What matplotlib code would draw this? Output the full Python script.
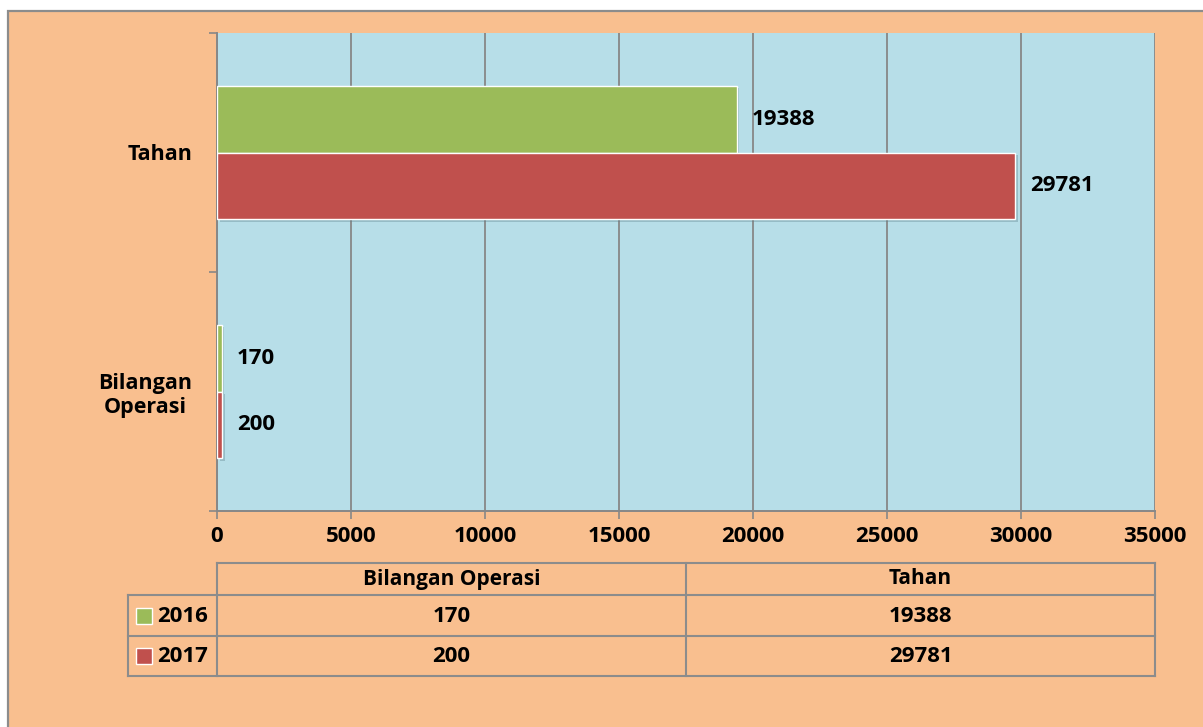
import matplotlib
matplotlib.use("Agg")
import matplotlib.pyplot as plt
from matplotlib.patches import Rectangle
from matplotlib.lines import Line2D
import matplotlib.patheffects as pe
import numpy as np

categories = ["Bilangan\nOperasi", "Tahan"]
table_headers = ["Bilangan Operasi", "Tahan"]
series_names = ["2016", "2017"]
values_2016 = [170, 19388]
values_2017 = [200, 29781]
x_ticks = [0, 5000, 10000, 15000, 20000, 25000, 30000, 35000]

W, H = 1203, 727
PEACH = "#F9BF8F"
BLUE = "#B7DEE8"
GREEN = "#9BBB59"
RED = "#C0504D"
GRAY = "#878787"
FONT = "Open Sans"
FS = 15.5      # words
FN = 16        # numbers

plt.rcParams['font.family'] = [FONT, 'DejaVu Sans']
plt.rcParams['font.weight'] = 'bold'

fig = plt.figure(figsize=(W / 100, H / 100), dpi=100, facecolor="white")

def fx(x):
    return x / W

def fy(y):
    return 1 - y / H

# chart area background with border
fig.patches.append(Rectangle((fx(8), -0.2), 1.2, fy(11) + 0.2, transform=fig.transFigure,
                             facecolor=PEACH, edgecolor="#8C8C8C", linewidth=1.6, zorder=-5))

ax = fig.add_axes([fx(217), fy(511), fx(1155) - fx(217), fy(33) - fy(511)])
ax.set_facecolor(BLUE)

shadow = [pe.SimplePatchShadow(offset=(2, -2), shadow_rgbFace="#5a7d88", alpha=0.35), pe.Normal()]
y = np.arange(len(categories))
bh = 0.28
b1 = ax.barh(y + bh / 2, values_2016, height=bh, color=GREEN, edgecolor="white", linewidth=1.0, zorder=3)
b2 = ax.barh(y - bh / 2, values_2017, height=bh, color=RED, edgecolor="white", linewidth=1.0, zorder=3)
for rect in list(b1) + list(b2):
    rect.set_path_effects(shadow)

for bars, vals in ((b1, values_2016), (b2, values_2017)):
    for rect, v in zip(bars, vals):
        ax.annotate(str(v), (rect.get_width(), rect.get_y() + rect.get_height() / 2),
                    xytext=(11, 0), textcoords="offset points", va="center", ha="left",
                    fontsize=FN, fontweight="bold", color="black", zorder=4)

ax.set_xlim(0, 35000)
ax.set_ylim(-0.5, 1.5)
ax.set_xticks(x_ticks)
ax.set_xticklabels([str(t) for t in x_ticks], fontsize=FN, fontweight="bold")
ax.tick_params(axis="x", length=6, width=1.2, color=GRAY, pad=5)

ax.set_yticks(y)
ax.set_yticklabels(categories, fontsize=FS, fontweight="bold", multialignment="center")
ax.tick_params(axis="y", which="major", length=0, pad=18)
ax.set_yticks([-0.5, 0.5, 1.5], minor=True)
ax.tick_params(axis="y", which="minor", length=6, width=1.2, color=GRAY)

ax.grid(axis="x", color=GRAY, linewidth=1.3, zorder=1)
ax.set_axisbelow(True)
for s in ("top", "right"):
    ax.spines[s].set_visible(False)
for s in ("left", "bottom"):
    ax.spines[s].set_color(GRAY)
    ax.spines[s].set_linewidth(1.4)

# data table below the chart
TL = "#8C8C8C"
def hline(yp, x0, x1):
    fig.lines.append(Line2D([fx(x0), fx(x1)], [fy(yp), fy(yp)], transform=fig.transFigure,
                            color=TL, linewidth=1.5, zorder=5))

def vline(xp, y0, y1):
    fig.lines.append(Line2D([fx(xp), fx(xp)], [fy(y0), fy(y1)], transform=fig.transFigure,
                            color=TL, linewidth=1.5, zorder=5))

col_x = [217, 686, 1155]
row_y = [563, 595, 636, 676]
leg_x = 128

hline(row_y[0], col_x[0], col_x[-1])
for r in row_y[1:]:
    hline(r, leg_x, col_x[-1])
vline(leg_x, row_y[1], row_y[-1])
for c in col_x:
    vline(c, row_y[0], row_y[-1])

for i, head in enumerate(table_headers):
    cx = (col_x[i] + col_x[i + 1]) / 2
    fig.text(fx(cx), fy((row_y[0] + row_y[1]) / 2), head, ha="center", va="center",
             fontsize=FS - 0.5, fontweight="bold")

for r, (name, vals, col) in enumerate(zip(series_names, (values_2016, values_2017), (GREEN, RED))):
    cy = (row_y[r + 1] + row_y[r + 2]) / 2
    fig.patches.append(Rectangle((fx(136), fy(cy + 8)), fx(16), 16 / H, transform=fig.transFigure,
                                 facecolor=col, edgecolor="white", linewidth=1.0, zorder=6))
    fig.text(fx(157), fy(cy + 1), name, ha="left", va="center", fontsize=FN, fontweight="bold")
    for i, v in enumerate(vals):
        cx = (col_x[i] + col_x[i + 1]) / 2
        fig.text(fx(cx), fy(cy + 1), str(v), ha="center", va="center", fontsize=FN, fontweight="bold")

fig.savefig("out.png", dpi=100, facecolor="white")
